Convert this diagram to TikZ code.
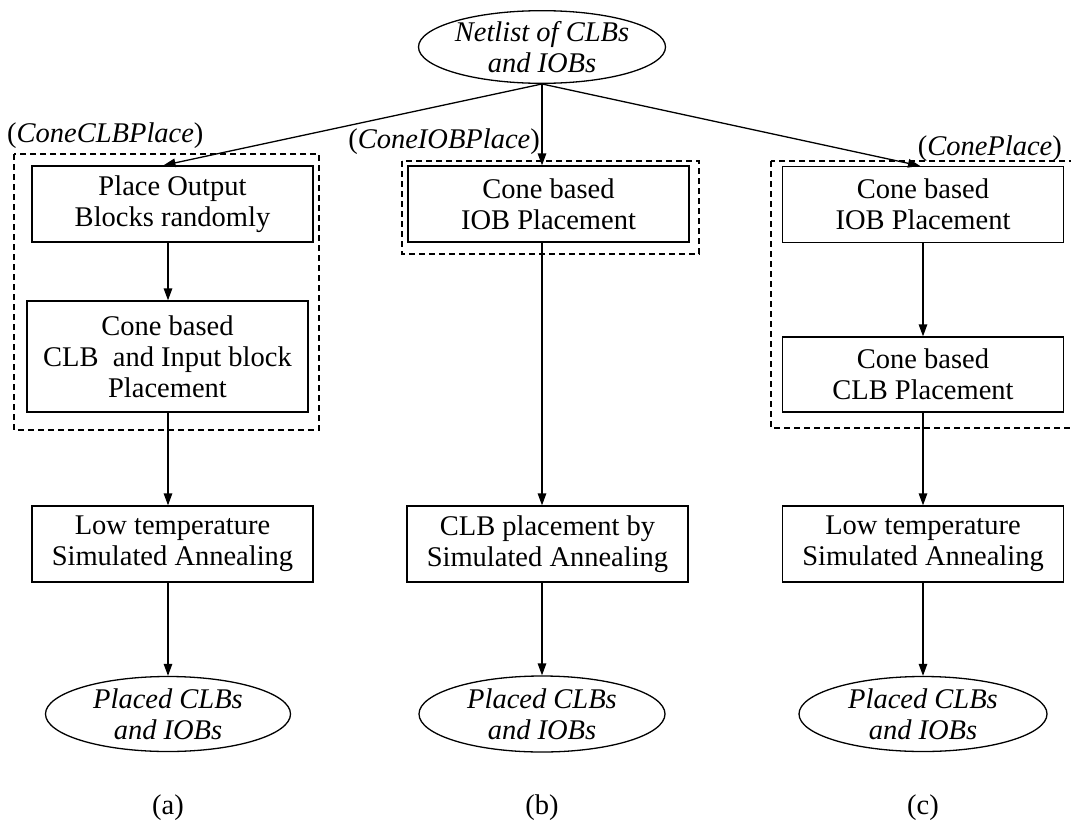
\documentclass[tikz,border=0pt]{standalone}
\usepackage{fontspec}
\setmainfont{Liberation Serif}
\usetikzlibrary{arrows.meta,shapes.geometric}
\begin{document}
\begin{tikzpicture}[x=1pt,y=-1pt,
  txt/.style={font=\fontsize{28.5}{31}\selectfont},
  stepbox/.style={txt,draw,line width=1.3pt,rectangle,align=center,inner sep=0pt,minimum width=281pt},
  term/.style={txt,draw,line width=1.3pt,ellipse,align=center,inner sep=0pt,font=\fontsize{28.5}{31}\selectfont\itshape},
  arr/.style={line width=1.3pt,-{Triangle[length=12pt,width=8.5pt]}},
  groupbox/.style={line width=1.2pt,dash pattern=on 6pt off 4pt},
  tag/.style={txt,inner sep=0pt}]
\useasboundingbox (0,0) rectangle (1071,827);
\clip (0,0) rectangle (1071,827);

% source
\node[term,minimum width=247pt,minimum height=67pt] (top) at (542,47) {Netlist of CLBs\\and IOBs};

% column (a)
\node[stepbox,minimum height=76pt]  (a1) at (172.5,204) {Place Output\\Blocks randomly};
\node[stepbox,minimum height=111pt] (a2) at (167.5,356.5) {Cone based\\CLB\ \ and Input block\\Placement};
\node[stepbox,minimum height=76pt]  (a3) at (172.5,544) {Low temperature\\Simulated Annealing};
\node[term,minimum width=245pt,minimum height=75pt] (aE) at (168,714) {Placed CLBs\\and IOBs};
\node[tag] (aC) at (168,808) {(a)};
\draw[groupbox] (14,154) rectangle (319,430);
\node[tag,anchor=base west] (aT) at (7,142) {(\textit{ConeCLBPlace})};

% column (b)
\node[stepbox,minimum height=76pt] (b1) at (548.5,204) {Cone based\\IOB Placement};
\node[stepbox,minimum height=76pt] (b3) at (547.5,544) {CLB placement by\\Simulated Annealing};
\node[term,minimum width=246pt,minimum height=76pt] (bE) at (542,714) {Placed CLBs\\and IOBs};
\node[tag] (bC) at (542,808) {(b)};
\draw[groupbox] (402,161) rectangle (699,254);
\node[tag,anchor=base east] (bT) at (540,148) {(\textit{ConeIOBPlace})};

% column (c)
\node[stepbox,minimum height=76pt] (c1) at (923,204.5) {Cone based\\IOB Placement};
\node[stepbox,minimum height=75pt] (c2) at (923,374.5) {Cone based\\CLB Placement};
\node[stepbox,minimum height=76pt] (c3) at (923,544) {Low temperature\\Simulated Annealing};
\node[term,minimum width=248pt,minimum height=75pt] (cE) at (923,714) {Placed CLBs\\and IOBs};
\node[tag] (cC) at (923,808) {(c)};
\draw[groupbox] (771,161) rectangle (1076,428);
\node[tag,anchor=base east] (cT) at (1062,155) {(\textit{ConePlace})};

% connectors
\draw[arr] (top.south) -- ([xshift=-9pt]a1.north);
\draw[arr] (top.south) -- (b1.north -| bE.north);
\draw[arr] (top.south) -- ([xshift=-3pt]c1.north);

\draw[arr] (a1.south -| aE.north) -- (a2.north -| aE.north);
\draw[arr] (a2.south -| aE.north) -- (a3.north -| aE.north);
\draw[arr] (a3.south -| aE.north) -- (aE.north);

\draw[arr] (b1.south -| bE.north) -- (b3.north -| bE.north);
\draw[arr] (b3.south -| bE.north) -- (bE.north);

\draw[arr] (c1.south) -- (c2.north);
\draw[arr] (c2.south) -- (c3.north);
\draw[arr] (c3.south) -- (cE.north);
\end{tikzpicture}
\end{document}
